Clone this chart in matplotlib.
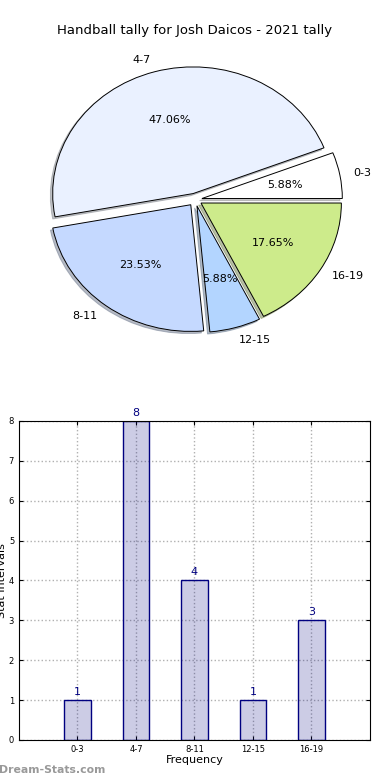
import matplotlib
matplotlib.use("Agg")
import matplotlib.pyplot as plt

# data
intervals = ['0-3', '4-7', '8-11', '12-15', '16-19']
counts = [1, 8, 4, 1, 3]
slice_colors = ['#ffffff', '#eaf1ff', '#c5d9ff', '#b3d5ff', '#cdeb8b']
explode = [0.05] * len(counts)

fig = plt.figure(figsize=(3.9, 7.8), dpi=100, facecolor='white')

# pie
ax1 = fig.add_axes([0.05, 0.541, 0.9, 0.406])
wedges, texts, autotexts = ax1.pie(counts, labels=intervals, colors=slice_colors,
                                   explode=explode, autopct='%1.2f%%',
                                   shadow={'ox': -0.012, 'oy': -0.012, 'shade': 0.45},
                                   startangle=0, labeldistance=1.1, pctdistance=0.6,
                                   wedgeprops=dict(edgecolor='black', linewidth=0.7),
                                   textprops=dict(fontsize=8))
ax1.set_aspect('auto')
ax1.set_xlim(-1.25, 1.25)
ax1.set_ylim(-1.25, 1.25)
fig.text(0.5, 0.9615, 'Handball tally for Josh Daicos - 2021 tally',
         ha='center', va='center', fontsize=9.5)

# bars
ax2 = fig.add_axes([0.0487, 0.0513, 0.9, 0.409])
xs = list(range(len(counts)))
bars = ax2.bar(xs, counts, width=0.45, facecolor=(0, 0, 0.5, 0.2),
               edgecolor='navy', linewidth=1.0)
for x, v in zip(xs, counts):
    ax2.text(x, v + 0.08, str(v), ha='center', va='bottom', color='navy', fontsize=8)
ax2.set_xlim(-1, 5)
ax2.set_ylim(0, 8)
ax2.set_xticks(xs)
ax2.set_xticklabels(intervals)
ax2.set_yticks(range(0, 9))
ax2.tick_params(labelsize=6, direction='in', top=True, right=True, length=3)
ax2.set_axisbelow(True)
ax2.grid(True, linestyle=':', color='#b0b0b0', linewidth=1.0)
ax2.set_xlabel('Frequency', fontsize=8, labelpad=1)
ax2.set_ylabel('Stat Intervals', fontsize=8)
ax2.yaxis.set_label_coords(-0.035, 0.5)

fig.text(-0.003, 0.013, 'Dream-Stats.com', ha='left', va='center',
         fontsize=7.8, color='#999999', fontweight='bold')

fig.savefig('out.png', dpi=100)
